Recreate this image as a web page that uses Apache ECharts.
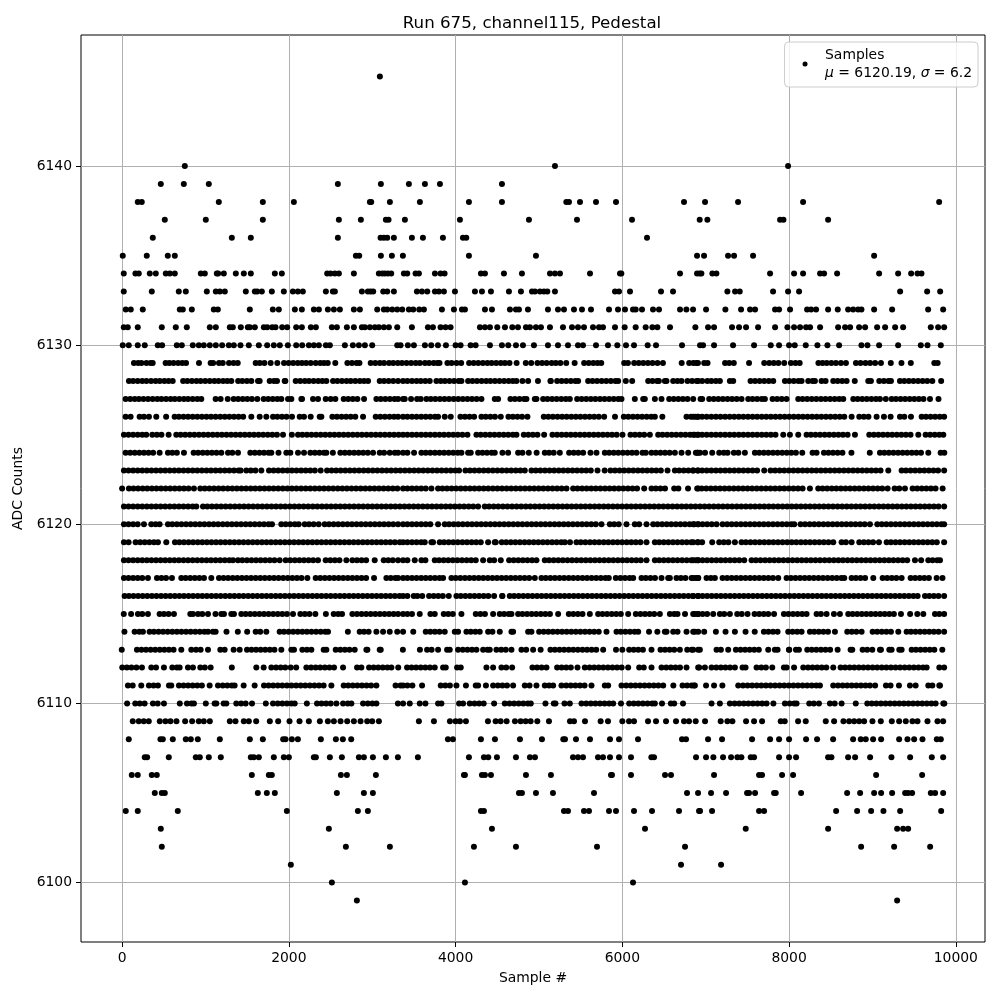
<!DOCTYPE html>
<html><head><meta charset="utf-8">
<style>html,body{margin:0;padding:0;background:#fff}#c{width:1000px;height:1000px}</style>
<script src="https://cdn.jsdelivr.net/npm/echarts@6/dist/echarts.min.js"></script>
</head><body><div id="c"></div>
<script>
const titleText = "Run 675, channel115, Pedestal";
const xTicks = [0,2000,4000,6000,8000,10000];
const yTicks = [6100,6110,6120,6130,6140];
const readCalibration = 8;
const a6145=[3100];
const a6140=[760,5200,7996];
const a6139=[472,748,1048,2596,3112,3448,3640,3820,4564];
const a6138=[196,244,1168,1696,2068,2980,2996,3220,3580,4168,4564,5336,5368,5500,5692,5932,6748,7000,7396,8176,9808];
const a6137=[520,1012,1696,2608,2872,3172,3204,3400,4060,4888,5464,6124,6936,7028,7900,7940,8476];
const a6136=[376,1324,1552,2596,3108,3148,3188,3268,3484,3616,3856,4096,4136,6304];
const a6135=[16,304,556,640,2812,2852,3112,3244,3376,4168,4972,6904,6988,7276,7348,7576,9028];
const a6134=[28,168,208,340,412,532,580,640,952,1000,1144,1160,1228,1372,1468,1552,1840,1924,2468,2508,2560,2608,2788,3088,3128,3160,3196,3236,3388,3428,3528,3568,3760,3828,3876,4312,4360,4588,4804,5140,5200,5260,5620,5980,5996,6700,6904,6936,6956,7088,7136,7780,8068,8176,8380,8428,8584,9088,9316,9472,9548,9596];
const a6133=[28,364,688,772,1024,1132,1180,1240,1492,1600,1628,1684,1804,1948,2056,2116,2176,2452,2536,2560,2884,2956,2988,3020,3140,3188,3268,3544,3604,3668,3760,3808,3868,4000,4240,4324,4432,4648,4792,4924,4960,5020,5068,5108,5200,5920,5968,6100,6472,6616,7268,7360,7416,7816,7996,8128,9340,9664,9820];
const a6132=[52,112,256,700,736,844,1108,1156,1540,1816,1888,2080,2164,2308,2368,2476,2548,2620,2788,2860,3068,3148,3188,3248,3308,3368,3448,3500,3572,3628,3844,3988,4084,4120,4360,4444,4660,4732,4768,4876,5116,5236,5308,5428,5524,5632,5848,5956,6040,6136,6168,6244,6376,6448,6700,6776,6856,7012,7244,7432,7540,7600,7840,7888,8020,8224,8272,8332,8476,8592,8716,8776,8836,8876,9028,9244,9676,9856];
const a6131=[28,76,196,484,652,784,1060,1132,1300,1336,1432,1516,1540,1600,1708,1748,1808,1848,1928,1988,2096,2164,2272,2332,2524,2584,2704,2788,2884,2920,2980,3040,3088,3148,3208,3308,3484,3676,3736,3828,3888,3948,4300,4360,4420,4508,4600,4688,4756,4852,4900,4972,5032,5140,5296,5404,5476,5548,5656,5728,5776,5920,6036,6168,6288,6368,6428,6580,6884,7036,7108,7324,7408,7492,7636,7840,7988,8068,8140,8212,8260,8380,8596,8680,8740,8848,8920,9064,9160,9280,9376,9708,9796,9868];
const a6130=[16,88,196,280,436,488,664,724,856,928,988,1060,1132,1208,1288,1348,1428,1528,1648,1748,1828,1900,1996,2096,2168,2248,2308,2368,2452,2500,2680,2776,2848,2920,3008,3308,3348,3436,3508,3640,3716,3796,3892,4008,4068,4188,4248,4420,4564,4640,4732,4816,4948,5116,5236,5356,5476,5536,5692,5836,5948,6052,6148,6312,6412,6724,6940,6976,7108,7336,7588,7788,7888,8008,8076,8208,8348,8468,8608,8876,8948,9088,9316,9588,9668,9828];
const a6129=[150,200,240,300,350,375,530,575,625,680,730,775,930,1070,1100,1170,1215,1290,1345,1395,1610,1660,1715,1790,1870,1950,2005,2060,2115,2165,2215,2270,2330,2385,2430,2475,2565,2710,2765,2820,2855,2990,3045,3100,3150,3210,3260,3315,3365,3420,3475,3530,3580,3640,3690,3745,3790,3815,3910,3960,4020,4075,4170,4225,4280,4335,4390,4440,4495,4550,4600,4655,4740,4850,4915,4990,5045,5100,5160,5210,5265,5335,5436,5550,5605,5660,5710,5755,6030,6075,6150,6205,6260,6315,6370,6430,6495,6720,6810,6860,6895,6915,6990,7030,7240,7290,7345,7528,7710,7770,7825,7880,7950,8030,8085,8135,8360,8410,8460,8515,8570,8630,8690,8810,8865,8925,8980,9040,9110,9228,9356,9468,9750,9790];
const a6128=[90,140,195,250,300,355,410,460,515,565,615,740,790,845,900,950,1005,1060,1115,1165,1220,1270,1318,1400,1450,1505,1558,1638,1658,1778,1830,1866,1958,1966,2090,2145,2200,2250,2305,2360,2410,2458,2538,2590,2645,2700,2750,2805,2860,2910,2958,3098,3150,3205,3260,3318,3378,3430,3485,3540,3590,3645,3698,3778,3830,3880,3935,3990,4045,4078,4158,4210,4265,4320,4375,4425,4480,4535,4590,4645,4695,4738,4810,4878,4996,5146,5150,5226,5280,5335,5390,5445,5478,5598,5650,5705,5760,5815,5870,5925,5958,6050,6126,6318,6370,6425,6446,6518,6538,6618,6670,6718,6790,6845,6900,6918,6966,7028,7076,7130,7178,7298,7338,7546,7600,7655,7710,7765,7818,7958,8010,8065,8120,8158,8238,8290,8318,8398,8446,8538,8590,8645,8698,8796,8958,8990,9090,9145,9200,9230,9338,9390,9445,9500,9555,9610,9665,9726,9832];
const a6127=[50,105,160,210,265,320,375,430,480,535,590,640,695,750,800,855,910,958,1130,1190,1275,1346,1400,1455,1510,1565,1630,1706,1760,1815,1870,1918,1998,2038,2158,2166,2298,2358,2450,2510,2566,2666,2720,2775,2830,2910,3058,3110,3165,3220,3275,3318,3378,3398,3474,3546,3590,3658,3710,3765,3820,3875,3930,3985,4040,4095,4150,4205,4260,4318,4478,4518,4666,4720,4775,4830,4858,4958,4978,5058,5110,5165,5220,5275,5330,5378,5466,5520,5575,5630,5685,5740,5795,5850,5905,5960,5998,6158,6258,6278,6398,6478,6570,6625,6680,6735,6790,6858,6946,6966,7050,7105,7160,7215,7270,7325,7380,7438,7518,7570,7625,7680,7718,7810,7865,7920,7978,8118,8170,8225,8280,8335,8390,8445,8500,8555,8610,8658,8778,8830,8885,8940,8995,9050,9098,9168,9238,9290,9345,9400,9455,9510,9565,9620,9698,9800];
const a6126=[50,110,218,270,330,418,536,638,690,745,800,855,910,965,1020,1075,1130,1185,1240,1295,1350,1405,1460,1558,1658,1738,1818,1870,1925,1980,2046,2138,2190,2270,2378,2398,2530,2585,2640,2695,2750,2805,2898,3050,3105,3160,3215,3270,3318,3378,3430,3485,3540,3595,3650,3705,3760,3798,3878,3950,4066,4120,4175,4230,4318,4370,4425,4480,4550,4642,4695,4750,4805,4870,5066,5120,5175,5230,5285,5340,5395,5450,5505,5560,5615,5670,5725,5790,5920,6026,6080,6135,6190,6245,6300,6355,6398,6488,6778,6830,6885,6918,6858,6910,6965,7020,7075,7130,7185,7240,7295,7350,7405,7460,7515,7570,7625,7680,7735,7790,7845,7900,7955,8010,8065,8120,8175,8230,8285,8340,8395,8450,8505,8560,8615,8670,8758,8850,8905,8960,9058,9146,9226,9338,9390,9470,9598,9650,9705,9760,9815,9868];
const a6125=[30,85,140,195,250,298,370,425,480,566,658,710,765,820,875,930,985,1040,1095,1150,1205,1260,1315,1370,1425,1480,1535,1590,1645,1700,1755,1810,1865,1938,2044,2118,2170,2225,2280,2335,2390,2445,2500,2555,2610,2665,2720,2775,2830,2885,2940,2995,3050,3105,3160,3215,3270,3325,3378,3430,3485,3540,3595,3650,3705,3760,3815,3870,3925,3980,4035,4090,4150,4258,4310,4365,4420,4475,4530,4585,4640,4695,4738,4826,4880,4935,4990,5070,5170,5225,5280,5335,5390,5445,5500,5555,5610,5665,5720,5775,5830,5885,5940,6010,6106,6160,6215,6270,6338,6438,6490,6545,6600,6655,6710,6765,6820,6875,6918,6858,6910,6965,7020,7075,7130,7185,7240,7295,7350,7405,7460,7515,7570,7625,7680,7735,7790,7845,7938,8018,8118,8218,8270,8325,8380,8435,8490,8545,8600,8655,8710,8798,8970,9025,9080,9135,9190,9245,9300,9355,9410,9465,9558,9646,9700,9755,9810,9858];
const a6124=[50,105,160,215,270,325,380,458,558,610,665,750,866,920,975,1030,1085,1140,1198,1278,1330,1398,1546,1600,1655,1710,1765,1798,1884,1978,2026,2118,2190,2266,2320,2375,2430,2458,2536,2626,2680,2735,2790,2845,2900,2955,3018,3098,3150,3218,3278,3318,3378,3430,3510,3598,3650,3705,3760,3815,3870,3925,3980,4035,4078,4158,4190,4278,4330,4385,4440,4478,4570,4638,4758,4810,4886,4980,5078,5130,5185,5258,5370,5425,5480,5538,5626,5698,5798,5850,5905,5960,6015,6070,6125,6178,6250,6290,6358,6410,6465,6520,6575,6638,6718,6798,6906,6918,6890,6940,7000,7086,7170,7225,7270,7346,7400,7478,7598,7650,7705,7760,7815,7870,7925,7980,8035,8090,8166,8290,8338,8426,8480,8535,8590,8648,8756,8976,9098,9150,9205,9260,9315,9370,9425,9480,9535,9590,9678,9826,9870];
const a6123=[30,85,140,195,250,305,360,415,470,525,580,635,690,745,800,855,910,965,1020,1075,1130,1185,1240,1295,1350,1405,1430,1498,1552,1607,1678,1770,1825,1880,1935,1990,2045,2100,2155,2210,2265,2320,2390,2466,2520,2575,2630,2685,2740,2795,2850,2905,2960,3015,3070,3125,3180,3235,3290,3345,3400,3455,3510,3565,3620,3675,3730,3785,3840,3895,3950,4005,4050,4126,4180,4235,4290,4345,4400,4455,4510,4565,4620,4675,4730,4785,4838,4918,4970,5025,5080,5135,5190,5245,5300,5355,5410,5465,5520,5575,5630,5710,5796,5866,5920,5975,6030,6085,6140,6195,6250,6305,6360,6415,6470,6550,6638,6690,6745,6800,6855,6918,6858,6910,6965,7020,7075,7130,7185,7240,7295,7350,7405,7460,7515,7570,7625,7710,7786,7840,7895,7950,8005,8060,8115,8170,8225,8280,8335,8390,8445,8500,8555,8610,8665,8720,8775,8830,8885,8940,8995,9050,9105,9198,9358,9410,9465,9520,9575,9630,9685,9740,9795,9868];
const a6122=[8,90,145,200,255,310,365,420,475,530,585,640,695,750,805,870,946,1000,1055,1110,1165,1220,1275,1330,1385,1440,1495,1550,1605,1660,1715,1770,1825,1880,1935,1990,2045,2100,2155,2210,2265,2320,2375,2430,2485,2540,2595,2650,2705,2760,2815,2870,2925,2980,3035,3090,3145,3200,3255,3310,3378,3430,3485,3540,3595,3650,3718,3798,3850,3905,3960,4015,4070,4125,4180,4235,4290,4345,4400,4455,4510,4565,4620,4675,4730,4785,4840,4895,4950,5005,5060,5115,5170,5225,5280,5338,5418,5470,5525,5580,5635,5690,5745,5800,5855,5910,5965,6020,6075,6130,6185,6270,6358,6410,6465,6520,6630,6680,6796,6918,6906,6960,7015,7070,7125,7180,7235,7290,7345,7400,7455,7510,7565,7620,7675,7730,7785,7840,7895,7950,8005,8060,8115,8170,8258,8358,8410,8465,8520,8575,8630,8685,8740,8795,8850,8905,8960,9015,9070,9125,9190,9274,9330,9398,9490,9545,9600,9655,9710,9765,9850];
const a6121=[30,85,140,195,250,305,360,415,470,525,580,635,690,745,800,855,898,978,1030,1085,1140,1195,1250,1305,1360,1415,1470,1525,1580,1635,1690,1745,1800,1855,1910,1965,2020,2075,2130,2185,2240,2295,2350,2405,2460,2515,2570,2625,2680,2735,2790,2845,2900,2955,3010,3065,3120,3175,3230,3285,3340,3395,3450,3505,3560,3615,3670,3725,3780,3835,3890,3945,4000,4055,4110,4165,4220,4278,4358,4410,4465,4520,4575,4630,4685,4740,4795,4850,4905,4960,5015,5070,5125,5180,5235,5290,5345,5400,5455,5510,5565,5620,5675,5730,5785,5840,5895,5950,6005,6060,6115,6170,6225,6280,6335,6390,6445,6500,6555,6610,6665,6720,6775,6830,6885,6940,6995,7050,7105,7160,7215,7270,7325,7380,7435,7490,7545,7600,7655,7710,7765,7820,7875,7930,7985,8040,8095,8150,8205,8260,8315,8370,8425,8480,8535,8590,8645,8700,8755,8810,8865,8920,8975,9030,9085,9140,9195,9250,9305,9360,9415,9470,9525,9580,9635,9690,9745,9800,9868];
const a6120=[30,85,140,195,270,358,410,458,558,610,665,720,775,830,885,940,995,1050,1105,1160,1215,1270,1325,1380,1435,1490,1545,1600,1655,1710,1765,1806,1918,1970,2025,2080,2126,2198,2250,2305,2366,2438,2490,2545,2600,2655,2710,2765,2820,2875,2930,2985,3040,3095,3150,3205,3260,3318,3378,3430,3485,3540,3595,3650,3705,3798,3878,3930,3985,4040,4095,4150,4205,4260,4315,4370,4425,4480,4535,4590,4645,4700,4755,4810,4865,4920,4975,5030,5085,5140,5195,5250,5305,5360,5415,5470,5525,5580,5635,5690,5758,5858,5910,5965,6058,6158,6210,6298,6378,6430,6485,6540,6595,6650,6705,6760,6815,6870,6918,6858,6915,6970,7025,7080,7138,7210,7265,7320,7375,7430,7485,7540,7595,7650,7705,7760,7815,7870,7925,7980,8035,8070,8146,8200,8255,8310,8365,8420,8475,8530,8585,8640,8695,8750,8805,8860,8915,8978,9066,9120,9175,9230,9285,9340,9395,9450,9505,9560,9615,9670,9725,9780,9835,9868];
const a6119=[30,86,170,225,280,335,390,438,538,642,695,750,805,860,915,970,1025,1080,1135,1190,1245,1300,1355,1410,1465,1520,1575,1630,1685,1740,1795,1850,1905,1960,2015,2070,2125,2180,2235,2290,2345,2400,2455,2510,2565,2620,2675,2730,2785,2840,2895,2950,3005,3060,3115,3170,3225,3280,3338,3378,3430,3485,3540,3595,3638,3718,3738,3818,3870,3925,3980,4035,4090,4145,4200,4255,4310,4398,4490,4478,4562,4615,4670,4725,4780,4835,4890,4945,5000,5055,5110,5165,5220,5275,5318,5380,5458,5510,5565,5620,5675,5730,5785,5840,5895,5950,6005,6060,6115,6170,6225,6298,6398,6450,6505,6560,6615,6670,6725,6780,6835,6918,6858,6910,6965,7086,7170,7225,7280,7358,7438,7490,7545,7600,7655,7710,7765,7820,7875,7930,7985,8040,8095,8150,8205,8260,8315,8370,8425,8480,8538,8638,8690,8758,8850,8905,8960,9015,9086,9178,9230,9285,9340,9395,9450,9505,9560,9615,9670,9725,9780,9868];
const a6118=[30,85,140,195,250,305,360,415,470,525,580,635,690,745,800,855,910,965,1020,1075,1130,1185,1240,1295,1338,1398,1450,1505,1560,1615,1670,1725,1780,1835,1898,1970,2025,2080,2135,2190,2245,2300,2358,2450,2505,2560,2615,2698,2770,2825,2880,2935,3038,3146,3200,3255,3318,3378,3430,3518,3598,3646,3758,3810,3865,3920,3975,4030,4085,4140,4195,4250,4338,4418,4470,4550,4650,4705,4760,4815,4870,4925,4978,5078,5130,5185,5240,5295,5350,5405,5460,5515,5570,5625,5680,5735,5790,5845,5900,5955,6010,6065,6120,6175,6230,6298,6398,6450,6505,6560,6615,6670,6725,6780,6835,6890,6918,6858,6915,6970,7025,7080,7135,7190,7245,7300,7355,7410,7470,7558,7610,7665,7720,7775,7830,7885,7940,7995,8050,8105,8160,8215,8270,8325,8380,8435,8490,8545,8600,8655,8710,8765,8820,8875,8930,8985,9040,9095,9150,9205,9260,9315,9370,9425,9518,9592,9678,9730,9785,9818];
const a6117=[30,85,140,195,250,318,426,480,535,606,718,770,825,880,935,990,1078,1170,1225,1280,1335,1390,1445,1500,1555,1610,1665,1720,1775,1830,1885,1940,1995,2050,2105,2160,2230,2330,2385,2440,2495,2550,2605,2660,2715,2770,2825,2880,2935,3030,3178,3230,3285,3318,3378,3430,3485,3540,3595,3650,3705,3760,3815,3858,3958,4010,4065,4120,4175,4230,4285,4340,4395,4450,4505,4560,4615,4670,4725,4780,4835,4890,4958,5038,5090,5145,5200,5255,5310,5365,5420,5475,5530,5585,5640,5695,5750,5805,5846,5930,5985,6040,6095,6138,6238,6290,6345,6400,6478,6558,6578,6658,6710,6765,6838,6890,6918,6858,6918,7018,7070,7118,7210,7265,7320,7375,7430,7485,7540,7595,7650,7705,7760,7815,7878,7978,8030,8085,8140,8195,8250,8305,8360,8415,8470,8525,8580,8635,8670,8758,8810,8865,8920,9018,9130,9185,9240,9295,9358,9466,9520,9575,9630,9685,9778,9848];
const a6116=[38,90,145,200,255,310,365,420,475,530,585,640,695,750,805,860,915,970,1025,1080,1135,1190,1245,1300,1355,1410,1465,1520,1575,1630,1685,1740,1795,1850,1905,1960,2015,2070,2125,2180,2235,2290,2345,2400,2455,2510,2565,2620,2675,2730,2785,2840,2895,2950,3005,3060,3115,3170,3225,3280,3335,3378,3430,3506,3550,3608,3690,3745,3800,3855,3926,4018,4070,4125,4180,4235,4290,4345,4400,4470,4570,4566,4658,4710,4765,4820,4875,4930,4985,5040,5095,5150,5205,5260,5315,5370,5425,5480,5535,5590,5645,5700,5755,5810,5865,5920,5975,6030,6085,6140,6195,6250,6305,6360,6415,6470,6525,6580,6635,6690,6745,6800,6855,6918,6858,6915,6970,7025,7080,7135,7190,7245,7300,7355,7410,7465,7520,7575,7630,7685,7740,7795,7850,7905,7960,8015,8070,8125,8180,8235,8290,8345,8400,8455,8510,8565,8620,8675,8730,8785,8840,8895,8950,9005,9060,9115,9170,9225,9280,9335,9390,9445,9500,9550,9638,9690,9745,9800,9868];
const a6115=[28,116,198,250,318,458,510,565,630,826,858,918,970,1038,1128,1198,1230,1318,1350,1438,1490,1545,1600,1655,1710,1765,1820,1875,1930,1985,2058,2146,2200,2255,2326,2452,2546,2600,2646,2770,2825,2880,2935,2990,3045,3100,3155,3210,3265,3318,3378,3430,3485,3578,3706,3758,3866,3920,3975,4078,4250,4305,4360,4458,4538,4590,4645,4678,4758,4810,4865,4920,4975,5030,5085,5140,5238,5366,5420,5475,5530,5618,5718,5770,5825,5880,5935,5990,6078,6170,6225,6280,6335,6390,6458,6578,6630,6670,6760,6878,6918,6858,6915,6970,7025,7098,7178,7230,7298,7386,7440,7510,7594,7650,7705,7758,7828,7946,8000,8055,8110,8165,8218,8338,8390,8458,8546,8618,8718,8770,8825,8880,8935,8990,9045,9100,9155,9210,9265,9350,9460,9546,9618,9758,9810,9868];
const a6114=[36,158,215,258,338,390,445,500,555,610,665,720,775,830,885,940,995,1038,1130,1098,1260,1396,1508,1610,1665,1738,1898,1950,2005,2060,2115,2170,2225,2280,2335,2390,2445,2478,2716,2858,2910,2965,3058,3138,3218,3308,3378,3500,3650,3705,3760,3815,3878,3998,4038,4138,4190,4245,4298,4398,4450,4538,4678,4698,4878,4918,5010,5065,5120,5175,5230,5285,5340,5395,5450,5505,5560,5615,5670,5725,5818,5938,5990,6045,6100,6155,6198,6328,6428,6518,6538,6618,6670,6778,6878,6918,6858,6990,7130,7246,7358,7486,7596,7706,7760,7815,7870,7998,8050,8105,8158,8258,8310,8365,8420,8475,8558,8706,8760,8815,8878,9010,9065,9120,9175,9230,9318,9418,9470,9525,9580,9635,9690,9745,9800,9868];
const a6113=[4,186,240,295,350,405,460,515,570,625,718,838,895,950,1038,1186,1238,1346,1418,1506,1560,1615,1670,1725,1780,1835,1918,2038,2070,2170,2225,2278,2426,2458,2570,2625,2680,2735,2798,2938,2950,3098,3110,3376,3580,3666,3720,3798,3906,3938,4038,4095,4150,4205,4258,4338,4390,4418,4498,4555,4610,4678,4798,4855,4938,5028,5146,5200,5255,5310,5365,5420,5475,5530,5585,5640,5695,5778,5932,6008,6090,6145,6200,6255,6358,6466,6520,6575,6630,6698,6786,6840,6918,6858,6938,7138,7190,7278,7370,7425,7480,7535,7590,7645,7758,7838,7870,8010,8006,8090,8126,8226,8280,8335,8390,8445,8500,8590,8746,8766,8890,8945,9006,9098,9110,9210,9238,9330,9358,9478,9530,9585,9640,9695,9750,9846];
const a6112=[10,65,120,180,246,358,415,510,610,665,698,798,858,946,1000,1070,1324,1618,1706,1798,1855,1910,1965,2030,2096,2218,2275,2330,2385,2440,2495,2550,2658,2826,2878,2970,3025,3080,3135,3190,3238,3320,3426,3480,3535,3590,3645,3700,3758,3858,3890,4026,4070,4378,4458,4558,4615,4686,4930,4985,5040,5098,5226,5280,5335,5390,5470,5558,5615,5670,5725,5780,5835,5890,5945,6000,6078,6210,6265,6358,6478,6535,6590,6645,6700,6778,6918,6930,6998,7078,7135,7190,7245,7300,7358,7450,7486,7618,7675,7730,7806,7946,7978,8068,8178,8235,8290,8345,8400,8455,8538,8626,8680,8735,8790,8845,8900,8955,9010,9065,9120,9175,9230,9285,9340,9395,9450,9505,9560,9615,9658,9810,9868];
const a6111=[78,135,238,330,385,438,570,598,690,745,800,855,910,965,1058,1158,1215,1270,1325,1358,1466,1598,1710,1765,1820,1875,1930,1985,2040,2095,2150,2205,2260,2315,2370,2425,2518,2666,2720,2775,2830,2885,2940,2995,3058,3288,3348,3378,3430,3490,3606,3830,3885,3940,4018,4132,4250,4278,4372,4458,4515,4570,4625,4698,4838,4895,4978,5078,5130,5178,5278,5335,5390,5445,5500,5555,5638,5798,5838,5998,6055,6110,6165,6220,6275,6330,6385,6440,6498,6620,6730,6785,6840,6878,6868,7012,7108,7208,7398,7455,7510,7565,7620,7675,7730,7785,7840,7895,7950,8005,8060,8115,8170,8225,8280,8335,8378,8538,8595,8650,8705,8760,8815,8870,8925,8978,9040,9170,9225,9326,9458,9526,9678,9726,9810,9818];
const a6110=[68,166,220,278,378,435,510,700,786,840,870,1012,1118,1138,1226,1258,1378,1435,1490,1566,1732,1818,1875,1930,1985,2040,2078,2224,2346,2400,2455,2510,2578,2658,2715,2758,2898,2955,3010,3058,3316,3378,3458,3578,3646,3798,3838,4050,4098,4178,4235,4290,4345,4470,4598,4655,4710,4765,4820,4875,4910,5086,5186,5206,5314,5378,5518,5575,5630,5685,5740,5795,5850,5898,5992,6090,6145,6200,6255,6310,6365,6398,6484,6590,6630,6736,7078,7178,7298,7355,7410,7465,7520,7575,7630,7685,7738,7820,7958,8015,8070,8098,8250,8305,8366,8498,8555,8638,8808,8946,9000,9055,9110,9165,9220,9275,9330,9385,9440,9495,9550,9605,9660,9715,9766,9858,9870];
const a6109=[136,208,268,328,460,528,588,660,764,848,928,988,1060,1300,1368,1468,1528,1616,1780,1880,2016,2136,2248,2380,2476,2548,2628,2708,2788,2868,2948,3008,3088,3568,3748,3940,4008,4060,4132,4396,4488,4548,4620,4720,4788,4848,4908,4988,5128,5380,5428,5560,5748,5836,6008,6088,6148,6316,6412,6532,6652,6748,6808,6888,7000,7188,7268,7328,7492,7588,7684,7908,7956,8116,8208,8448,8548,8660,8728,8788,8848,8908,9008,9108,9240,9328,9408,9488,9548,9668,9788,9856];
const a6108=[88,468,496,616,772,832,916,1180,1540,1696,1940,1968,2044,2116,2392,2572,2656,2756,3916,3976,4312,4480,4780,5044,5300,5320,5452,5620,5860,5968,6196,6724,6772,7036,7204,7564,7780,7888,8008,8212,8344,8536,8776,8868,8928,9016,9112,9328,9428,9508,9608,9780,9828];
const a6107=[280,308,568,892,940,1048,1192,1552,1588,1648,1828,1948,2008,2308,2332,2500,2644,2848,2908,3016,3172,3316,3556,4168,4348,4400,4504,4732,4900,4960,5416,5476,5536,5716,5776,5860,5968,6112,6356,6388,6892,7012,7100,7216,7312,7388,7436,7548,7588,7888,8008,8092,8476,8516,8716,8800,8980,9236,9460,9720,9856];
const a6106=[124,196,364,424,1564,1768,1804,2632,2704,3052,4108,4120,4324,4360,4432,4852,5152,5872,5884,6112,6520,6592,7108,7648,7684,7924,8056,9052,9604];
const a6105=[400,484,520,1636,1744,1840,2584,2908,3016,4768,4804,4972,5176,5668,6784,6916,7072,7252,7504,7528,7600,7828,7848,8152,8704,8860,9028,9112,9244,9400,9436,9484,9708,9760,9856];
const a6104=[52,196,676,1984,2836,2956,4312,4348,5308,5356,5548,5608,5848,5932,6148,6364,6688,6928,6940,7084,7648,7708,8572,8824,8992,9140,9340,9832];
const a6103=[472,2488,4444,6280,7488,8476,9304,9376,9436];
const a6102=[484,2692,3220,4228,4732,5704,6760,8872,9268,9700];
const a6101=[2032,6712,7192];
const a6100=[2524,4120,6136];
const a6099=[2824,9304];
const levels=[[6145,a6145],[6140,a6140],[6139,a6139],[6138,a6138],[6137,a6137],[6136,a6136],[6135,a6135],[6134,a6134],[6133,a6133],[6132,a6132],[6131,a6131],[6130,a6130],[6129,a6129],[6128,a6128],[6127,a6127],[6126,a6126],[6125,a6125],[6124,a6124],[6123,a6123],[6122,a6122],[6121,a6121],[6120,a6120],[6119,a6119],[6118,a6118],[6117,a6117],[6116,a6116],[6115,a6115],[6114,a6114],[6113,a6113],[6112,a6112],[6111,a6111],[6110,a6110],[6109,a6109],[6108,a6108],[6107,a6107],[6106,a6106],[6105,a6105],[6104,a6104],[6103,a6103],[6102,a6102],[6101,a6101],[6100,a6100],[6099,a6099]];
const points=[];
levels.forEach(([y,xs])=>xs.forEach(x=>points.push([x-readCalibration,y])));
const font='"DejaVu Sans"';
const plain=v=>String(v);
const chart=echarts.init(document.getElementById('c'),null,{renderer:'canvas'});
const axisBase={
  type:'value',
  axisLine:{show:false,onZero:false},
  axisTick:{show:true,length:5,inside:false,lineStyle:{color:'#000',width:1}},
  axisLabel:{color:'#000',fontFamily:font,fontSize:13.9,formatter:plain},
  splitLine:{show:true,lineStyle:{color:'#b0b0b0',width:1}},
  nameTextStyle:{color:'#000',fontFamily:font,fontSize:13.9},
  nameLocation:'middle'
};
chart.setOption({
  animation:false,
  backgroundColor:'#fff',
  title:{text:titleText,left:527,top:10,textAlign:'center',textStyle:{fontFamily:font,fontWeight:'normal',fontSize:16.67,color:'#000'}},
  grid:{left:81,right:15,top:35,bottom:58,show:true,borderColor:'#000',borderWidth:1,backgroundColor:'transparent'},
  xAxis:Object.assign({},axisBase,{min:-493,max:10350,name:'Sample #',nameGap:29,
    axisTick:Object.assign({},axisBase.axisTick,{customValues:xTicks}),
    axisLabel:Object.assign({},axisBase.axisLabel,{customValues:xTicks,margin:9})}),
  yAxis:Object.assign({},axisBase,{min:6096.68,max:6147.32,name:'ADC Counts',nameGap:53,
    axisTick:Object.assign({},axisBase.axisTick,{customValues:yTicks}),
    axisLabel:Object.assign({},axisBase.axisLabel,{customValues:yTicks,margin:9})}),
  legend:{show:true,right:22,top:42,orient:'vertical',padding:[6,6,7,18],itemWidth:30,itemHeight:5,icon:'circle',
    backgroundColor:'rgba(255,255,255,0.8)',borderColor:'#ccc',borderWidth:1,borderRadius:4,
    data:[{name:'Samples',itemStyle:{color:'#000',opacity:1}}],
    formatter:()=>'{t|Samples}\n{m|μ}{t| = 6120.19, }{m|σ}{t| = 6.2}',
    textStyle:{rich:{t:{fontFamily:font,fontSize:13.9,color:'#000',lineHeight:18},m:{fontFamily:font,fontStyle:'italic',fontSize:13.9,color:'#000',lineHeight:18}}}},
  series:[{name:'Samples',type:'scatter',data:points,symbol:'circle',symbolSize:6,itemStyle:{color:'#000',opacity:1},large:false,progressive:0,emphasis:{disabled:true},silent:true,z:3}]
});
</script></body></html>
